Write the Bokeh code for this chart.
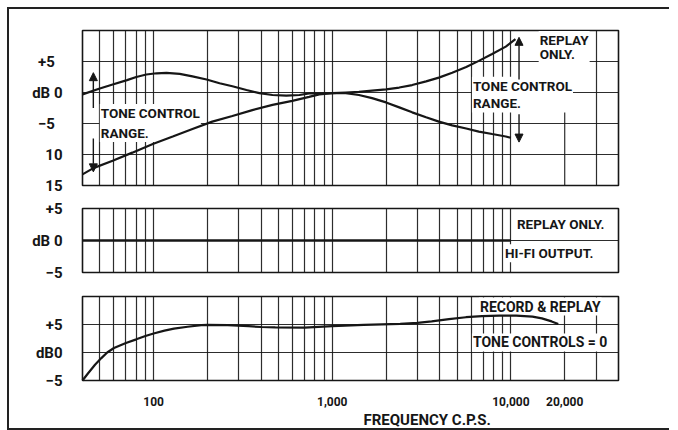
from bokeh.plotting import figure
from bokeh.layouts import column
from bokeh.models import Range1d, FixedTicker, Label, Arrow, NormalHead
from bokeh.embed import file_html
from bokeh.resources import INLINE

# ---------------- data ----------------
grid_freqs = [50, 60, 70, 80, 90, 100, 200, 300, 400, 500, 600, 700, 800, 900,
              1000, 2000, 3000, 4000, 5000, 6000, 7000, 8000, 9000, 10000, 20000, 30000]
x_ticks = [100, 1000, 10000, 20000]
x_tick_labels = ["100", "1,000", "10,000", "20,000"]

# top panel: tone control range (replay only)
upper_f = [40, 50, 59, 71, 80, 91, 104, 118, 140, 165, 198, 234, 276, 331, 391, 463, 553, 655,
           742, 846, 1000, 1190, 1410, 1670, 2000, 2370, 2800, 3350, 3950, 4690, 5620, 6610,
           7850, 9360, 10600]
upper_db = [-0.3, 0.65, 1.3, 2.0, 2.5, 2.9, 3.1, 3.15, 3.0, 2.6, 2.1, 1.5, 1.0, 0.4, -0.1, -0.4,
            -0.5, -0.4, -0.15, -0.15, -0.1, 0.0, 0.1, 0.3, 0.5, 0.8, 1.2, 1.8, 2.4, 3.2, 4.1, 5.1,
            6.2, 7.4, 8.6]
lower_f = [40, 46, 59, 76, 99, 128, 165, 213, 276, 357, 463, 597, 742, 846, 1000, 1190, 1410,
           1670, 2000, 2370, 2800, 3350, 3950, 4690, 5620, 6610, 7850, 9360, 10000]
lower_db = [-13.2, -12.2, -11.0, -9.7, -8.3, -7.1, -5.9, -4.7, -3.8, -2.85, -2.0, -1.35, -0.7,
            -0.3, -0.1, -0.1, -0.4, -0.9, -1.6, -2.4, -3.2, -4.0, -4.7, -5.3, -5.8, -6.3, -6.7,
            -7.1, -7.3]

# middle panel: hi-fi output (replay only)
hifi_f = [40, 10000]
hifi_db = [0.0, 0.0]

# bottom panel: record & replay, tone controls = 0
rec_f = [40, 43, 47, 51, 55, 60, 70, 80, 90, 100, 115, 130, 155, 185, 200, 260, 340, 400, 480,
         700, 1000, 1500, 2400, 3000, 3600, 4500, 5600, 6900, 8600, 10700, 13200, 14900, 16900, 18400]
rec_db = [-5.0, -3.7, -2.2, -1.0, 0.0, 0.8, 1.7, 2.35, 2.95, 3.4, 3.9, 4.25, 4.6, 4.9, 4.95, 4.9,
          4.7, 4.55, 4.5, 4.45, 4.7, 4.95, 5.1, 5.3, 5.55, 5.95, 6.3, 6.5, 6.6, 6.6, 6.4, 6.1, 5.55, 5.1]

top_ticks = [5, 0, -5, -10, -15]
top_tick_labels = ["+5\u2002", "dB 0", "\u22125\u2002", "10", "15"]
mid_ticks = [5, 0, -5]
mid_tick_labels = ["+5", "dB 0", "\u22125"]
bot_ticks = [5, 0, -5]
bot_tick_labels = ["+5", "dB0", "\u22125"]

INK = "#161616"
FONT = "Roboto"
W = 660
L_B, R_B = 73, 51


def make_panel(height, top, bottom, y0, y1, yticks, ylabels, gticks, hgrid, **kw):
    p = figure(width=W, height=height, x_axis_type="log", output_backend="svg",
               toolbar_location=None, x_range=Range1d(40, 40000), y_range=Range1d(y0, y1),
               min_border_left=L_B, min_border_right=R_B, min_border_top=top,
               min_border_bottom=bottom, background_fill_color="white",
               border_fill_color="white", **kw)
    p.outline_line_color = INK
    p.outline_line_width = 1.6
    p.xgrid.ticker = FixedTicker(ticks=gticks)
    p.ygrid.ticker = FixedTicker(ticks=hgrid)
    for g in (p.xgrid, p.ygrid):
        g.grid_line_color = INK
        g.grid_line_width = 1.2
        g.grid_line_alpha = 0.9
    p.xgrid.minor_grid_line_color = None
    ax = p.yaxis[0]
    ax.ticker = FixedTicker(ticks=yticks)
    ax.major_label_overrides = {t: s for t, s in zip(yticks, ylabels)}
    ax.axis_line_color = None
    ax.major_tick_line_color = None
    ax.minor_tick_line_color = None
    ax.major_label_standoff = 14
    ax.major_label_text_font = FONT
    ax.major_label_text_font_size = "15px"
    ax.major_label_text_font_style = "bold"
    ax.major_label_text_color = INK
    return p


def tag(p, text, x, y, lh=1.2, size="13.5px"):
    lab = Label(x=x, y=y, text=text, text_font=FONT, text_font_size=size,
                text_font_style="bold", text_line_height=lh,
                text_color=INK, text_align="left", text_baseline="middle",
                background_fill_color="white", padding=1)
    p.add_layout(lab)


def arrow(p, x, ys, ye):
    p.add_layout(Arrow(end=NormalHead(size=8, fill_color=INK, line_color=INK, line_width=1),
                       x_start=x, y_start=ys, x_end=x, y_end=ye,
                       line_color=INK, line_width=1.4))


def curve(p, xs, ys, w=2.2):
    p.line(xs, ys, line_color=INK, line_width=w, level="overlay")


# ---- top panel ----
p1 = make_panel(187, 21, 11, -15, 10, top_ticks, top_tick_labels,
                [f for f in grid_freqs if f != 20000], [-10, -5, 0, 5])
p1.xaxis.visible = False
p1.segment(x0=[20000], y0=[-15], x1=[20000], y1=[0], line_color=INK, line_width=1.2,
           line_alpha=0.9)
curve(p1, upper_f, upper_db)
curve(p1, lower_f, lower_db)
tag(p1, "TONE CONTROL\nRANGE.", 50, -4.9, 1.25)
tag(p1, "TONE CONTROL\nRANGE.", 6050, -0.35, 1.1)
tag(p1, "REPLAY\nONLY.", 14300, 7.35, 0.88)
arrow(p1, 46, -2.5, 3.2)
arrow(p1, 46, -7.4, -12.8)
arrow(p1, 11100, 2.1, 8.9)
arrow(p1, 11100, -3.5, -8.0)

# ---- middle panel ----
p2 = make_panel(88, 12, 12, -5, 5, mid_ticks, mid_tick_labels,
                [f for f in grid_freqs if f <= 10000], [0])
p2.xaxis.visible = False
curve(p2, hifi_f, hifi_db, 2.6)
tag(p2, "REPLAY ONLY.", 10670, 2.65)
tag(p2, "HI-FI OUTPUT.", 9140, -2.0)

# ---- bottom panel ----
p3 = make_panel(144, 12, 40, -5, 10, bot_ticks, bot_tick_labels, grid_freqs, [0, 5],
                title="FREQUENCY C.P.S.", title_location="below")
xa = p3.xaxis[0]
xa.ticker = FixedTicker(ticks=x_ticks)
xa.major_label_overrides = {t: s for t, s in zip(x_ticks, x_tick_labels)}
xa.axis_line_color = None
xa.major_tick_line_color = None
xa.minor_tick_line_color = None
xa.major_label_standoff = 10
xa.major_label_text_font = FONT
xa.major_label_text_font_size = "12px"
xa.major_label_text_font_style = "bold"
xa.major_label_text_color = INK
p3.title.align = "left"
p3.title.offset = 281
p3.title.standoff = 0
p3.title.text_font = FONT
p3.title.text_font_size = "15px"
p3.title.text_font_style = "bold"
p3.title.text_color = INK
curve(p3, rec_f, rec_db)
tag(p3, "RECORD & REPLAY", 6620, 8.2, size="14px")
tag(p3, "TONE CONTROLS = 0", 6050, 1.8, size="14px")

layout = column(p1, p2, p3, spacing=0,
                styles={"margin-left": "7px", "margin-top": "7px",
                        "border-top": "2px solid #222", "border-left": "2px solid #222",
                        "border-bottom": "2px solid #222"})

open("out.html", "w").write(file_html(layout, INLINE))
